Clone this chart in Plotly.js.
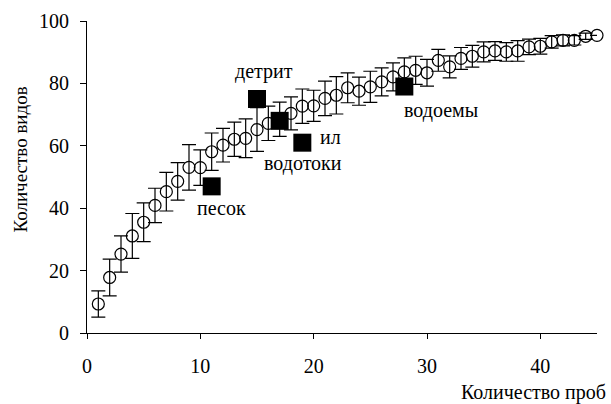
<!DOCTYPE html>
<html>
<head>
<meta charset="utf-8">
<script src="https://cdn.plot.ly/plotly-3.0.1.min.js"></script>
<style>
html,body{margin:0;padding:0;background:#fff;}
#chart{width:611px;height:404px;}
</style>
</head>
<body>
<div id="chart"></div>
<script>
// Species accumulation curve (mean and error)
const samples = [1,2,3,4,5,6,7,8,9,10,11,12,13,14,15,16,17,18,19,20,21,22,23,24,25,26,27,28,29,30,31,32,33,34,35,36,37,38,39,40,41,42,43,44,45];
const species = [9.3,17.8,25.3,31.1,35.5,40.9,45.3,48.6,53.1,53.0,58.1,60.2,62.1,62.4,65.2,67.2,68.5,70.4,72.7,72.8,75.2,76.2,78.6,77.5,78.9,80.5,82.1,83.7,84.2,83.4,87.4,85.3,88.0,88.7,90.1,90.4,90.1,90.4,91.7,91.9,93.3,93.8,93.8,95.1,95.4];
const speciesErr = [4.2,5.9,5.8,7.2,6.2,5.5,6.2,6.0,7.3,5.7,6.0,5.4,5.5,6.2,7.0,5.5,5.5,5.3,5.5,5.0,5.5,6.0,4.8,4.5,5.0,4.5,4.5,4.5,4.5,4.3,3.5,3.5,3.5,3.5,3.2,3.0,3.0,3.3,2.5,2.5,2.0,1.8,1.5,1.0,0.0];

// Habitat observations
const habitatNames = ["песок","детрит","водотоки","ил","водоемы"];
const habitatSamples = [11,15,17,19,28];
const habitatSpecies = [47,75,68,61,79];

// Label placement (data coords) for habitat names
const labelX = [11.83,15.62,19.1,21.52,31.2];
const labelY = [40.0,83.7,54.4,62.8,71.4];

const xTicks = [0,10,20,30,40];
const yTicks = [0,20,40,60,80,100];

const FONT = '"Liberation Serif", "Times New Roman", Times, serif';

const traces = [
  {
    x: samples, y: species, type: 'scatter', mode: 'markers',
    marker: {symbol: 'circle-open', size: 12, color: '#000', line: {width: 1.2, color: '#000'}},
    error_y: {type: 'data', array: speciesErr, visible: true, color: '#000', thickness: 1.2, width: 7},
    hoverinfo: 'skip', cliponaxis: false
  },
  {
    x: habitatSamples, y: habitatSpecies, type: 'scatter', mode: 'markers',
    marker: {symbol: 'square', size: 18, color: '#000', line: {width: 0}},
    hoverinfo: 'skip', cliponaxis: false
  }
];

const annotations = habitatNames.map((n, i) => ({
  x: labelX[i], y: labelY[i], xref: 'x', yref: 'y', text: n, showarrow: false,
  font: {family: FONT, size: 20, color: '#000'}, xanchor: 'center', yanchor: 'middle'
}));
annotations.push({
  xref: 'paper', yref: 'paper', x: 1.022, y: -0.19, xanchor: 'right', yanchor: 'middle',
  text: 'Количество проб', showarrow: false, font: {family: FONT, size: 20, color: '#000'}
});
annotations.push({
  xref: 'paper', yref: 'paper', x: -0.13, y: 0.555, xanchor: 'center', yanchor: 'middle', textangle: -90,
  text: 'Количество видов', showarrow: false, font: {family: FONT, size: 19, color: '#000'}
});

const layout = {
  width: 611, height: 404,
  margin: {l: 87, r: 14, t: 21, b: 71},
  paper_bgcolor: '#fff', plot_bgcolor: '#fff',
  showlegend: false,
  font: {family: FONT, size: 20, color: '#000'},
  xaxis: {
    range: [0, 45], tickvals: xTicks, ticktext: xTicks.map(String),
    showline: true, linecolor: '#000', linewidth: 1, showgrid: false, zeroline: false,
    ticks: 'outside', ticklen: 5, tickcolor: '#000', tickwidth: 1,
    tickfont: {family: FONT, size: 20, color: '#000'}, ticklabelstandoff: 10
  },
  yaxis: {
    range: [0, 100], tickvals: yTicks, ticktext: yTicks.map(String),
    showline: true, linecolor: '#000', linewidth: 1, showgrid: false, zeroline: false,
    ticks: 'outside', ticklen: 6, tickcolor: '#000', tickwidth: 1,
    tickfont: {family: FONT, size: 20, color: '#000'}, ticklabelstandoff: 7
  },
  annotations: annotations
};

Plotly.newPlot('chart', traces, layout, {staticPlot: true, displayModeBar: false});
</script>
</body>
</html>
